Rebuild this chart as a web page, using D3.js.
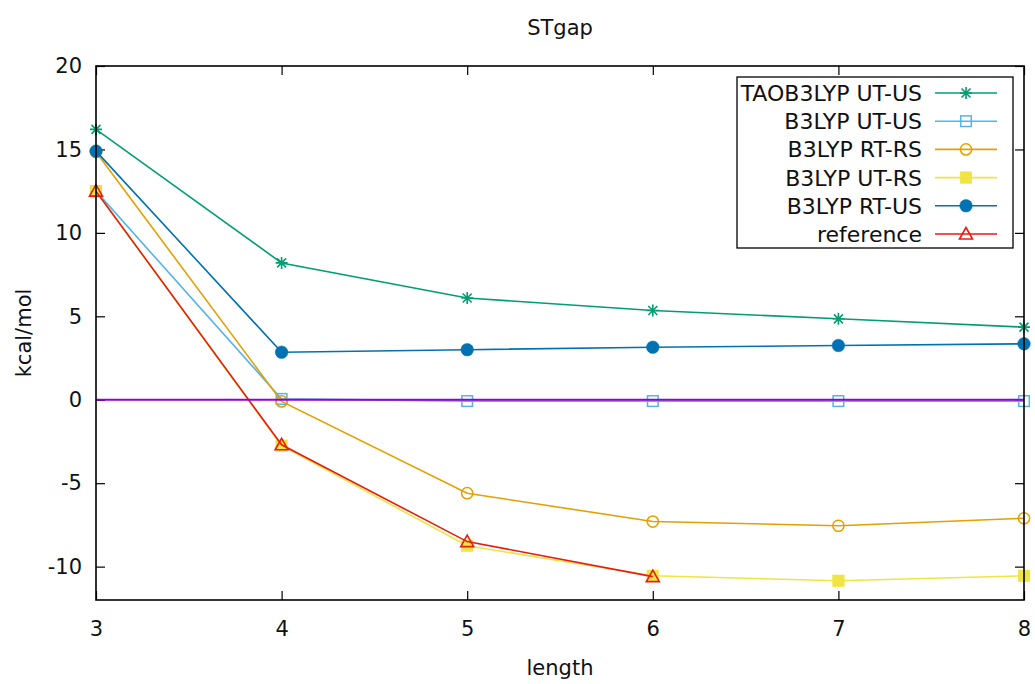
<!DOCTYPE html>
<html>
<head>
<meta charset="utf-8">
<script src="https://cdn.jsdelivr.net/npm/d3@7"></script>
<style>
  html, body { margin: 0; padding: 0; background: #fff; }
  svg text { font-family: "DejaVu Sans", Verdana, sans-serif; fill: #111; }
</style>
</head>
<body>
<svg id="chart" width="1035" height="684"></svg>
<script>
// ---- data ----
const lengths = [3, 4, 5, 6, 7, 8];
const taoUTUS  = [16.2, 8.2, 6.1, 5.35, 4.85, 4.35];
const b3UTUS   = [12.5, 0.05, -0.08, -0.08, -0.08, -0.08];
const b3RTRS   = [14.85, -0.1, -5.6, -7.3, -7.55, -7.1];
const b3UTRS   = [12.5, -2.75, -8.75, -10.55, -10.85, -10.55];
const b3RTUS   = [14.9, 2.85, 3.0, 3.15, 3.25, 3.35];
const refVals  = [12.5, -2.7, -8.5, -10.6];
const seriesNames = ["TAOB3LYP UT-US", "B3LYP UT-US", "B3LYP RT-RS", "B3LYP UT-RS", "B3LYP RT-US", "reference"];
const seriesColors = ["#009e73", "#56b4e9", "#e69f00", "#f0e442", "#0072b2", "#e51e10"];
const seriesMarkers = ["star", "openSquare", "openCircle", "filledSquare", "filledCircle", "openTriangle"];
const yTicks = [-10, -5, 0, 5, 10, 15, 20];
const xTicks = [3, 4, 5, 6, 7, 8];
const titleText = "STgap";
const xLabel = "length";
const yLabel = "kcal/mol";

const seriesValues = [taoUTUS, b3UTUS, b3RTRS, b3UTRS, b3RTUS, refVals];

// ---- layout ----
const svg = d3.select("#chart");
const L = 96, R = 1024, T = 66, B = 600;
const x = d3.scaleLinear().domain([3, 8]).range([L, R]);
const y = d3.scaleLinear().domain([-12, 20]).range([B, T]);
const fontSize = 21;
const legendFont = 22;
const plainFmt = d => String(d);

function drawMarker(g, type, cx, cy, color) {
  const s = 6;
  if (type === "star") {
    const p = d3.path();
    p.moveTo(cx - s, cy); p.lineTo(cx + s, cy);
    p.moveTo(cx, cy - s); p.lineTo(cx, cy + s);
    p.moveTo(cx - s * 0.75, cy - s * 0.75); p.lineTo(cx + s * 0.75, cy + s * 0.75);
    p.moveTo(cx - s * 0.75, cy + s * 0.75); p.lineTo(cx + s * 0.75, cy - s * 0.75);
    g.append("path").attr("d", p.toString()).attr("stroke", color).attr("stroke-width", 1.6).attr("fill", "none");
  } else if (type === "openSquare" || type === "filledSquare") {
    const filled = type === "filledSquare";
    const h = filled ? 5.8 : 5.3;
    g.append("rect").attr("x", cx - h).attr("y", cy - h).attr("width", 2 * h).attr("height", 2 * h)
      .attr("fill", filled ? color : "none").attr("stroke", color).attr("stroke-width", filled ? 0.5 : 1.5);
  } else if (type === "openCircle" || type === "filledCircle") {
    const filled = type === "filledCircle";
    g.append("circle").attr("cx", cx).attr("cy", cy).attr("r", filled ? 6.3 : 5.6)
      .attr("fill", filled ? color : "none").attr("stroke", color).attr("stroke-width", filled ? 0.5 : 1.5);
  } else if (type === "openTriangle") {
    const p = d3.path();
    p.moveTo(cx, cy - 6.5); p.lineTo(cx + 6.5, cy + 5); p.lineTo(cx - 6.5, cy + 5); p.closePath();
    g.append("path").attr("d", p.toString()).attr("fill", "none").attr("stroke", color).attr("stroke-width", 1.6);
  }
}

// ---- axes (gnuplot-style ticks inward, mirrored) ----
const axisG = svg.append("g");
const tickLen = 9;
const leftAxis = d3.axisLeft(y).tickValues(yTicks).tickSizeInner(-tickLen).tickSizeOuter(0).tickFormat(plainFmt);
axisG.append("g").attr("transform", `translate(${L},0)`).call(leftAxis)
  .call(g => g.select(".domain").remove())
  .call(g => g.selectAll("line").attr("stroke", "#000").attr("stroke-width", 1.2))
  .call(g => g.selectAll("text").attr("font-size", fontSize).attr("font-family", "DejaVu Sans").attr("fill", "#111").attr("x", -14));
const rightAxis = d3.axisRight(y).tickValues(yTicks).tickSizeInner(-tickLen).tickSizeOuter(0).tickFormat("");
axisG.append("g").attr("transform", `translate(${R},0)`).call(rightAxis)
  .call(g => g.select(".domain").remove())
  .call(g => g.selectAll("line").attr("stroke", "#000").attr("stroke-width", 1.2));
const bottomAxis = d3.axisBottom(x).tickValues(xTicks).tickSizeInner(-tickLen).tickSizeOuter(0).tickFormat(plainFmt);
axisG.append("g").attr("transform", `translate(0,${B})`).call(bottomAxis)
  .call(g => g.select(".domain").remove())
  .call(g => g.selectAll("line").attr("stroke", "#000").attr("stroke-width", 1.2))
  .call(g => g.selectAll("text").attr("font-size", fontSize).attr("font-family", "DejaVu Sans").attr("fill", "#111").attr("y", 21));
const topAxis = d3.axisTop(x).tickValues(xTicks).tickSizeInner(-tickLen).tickSizeOuter(0).tickFormat("");
axisG.append("g").attr("transform", `translate(0,${T})`).call(topAxis)
  .call(g => g.select(".domain").remove())
  .call(g => g.selectAll("line").attr("stroke", "#000").attr("stroke-width", 1.2));

// ---- series ----
const plotG = svg.append("g");
const line = d3.line().x(d => x(d[0])).y(d => y(d[1]));
seriesValues.forEach((vals, i) => {
  const pts = vals.map((v, j) => [lengths[j], v]);
  plotG.append("path").datum(pts).attr("d", line)
    .attr("fill", "none").attr("stroke", seriesColors[i]).attr("stroke-width", 1.6);
  pts.forEach(p => drawMarker(plotG, seriesMarkers[i], x(p[0]), y(p[1]), seriesColors[i]));
});
// zero line (purple)
plotG.append("line").attr("x1", x(3)).attr("x2", x(8)).attr("y1", y(0)).attr("y2", y(0))
  .attr("stroke", "#9400d3").attr("stroke-width", 1.8);

// ---- frame ----
svg.append("rect").attr("x", L).attr("y", T).attr("width", R - L).attr("height", B - T)
  .attr("fill", "none").attr("stroke", "#000").attr("stroke-width", 1.6);

// ---- legend ----
const lg = svg.append("g");
lg.append("rect").attr("x", 737).attr("y", 77).attr("width", 276).attr("height", 171)
  .attr("fill", "#fff").attr("stroke", "#000").attr("stroke-width", 1.3);
seriesNames.forEach((name, i) => {
  const cy = 93 + i * 28.2;
  lg.append("text").attr("x", 922).attr("y", cy).attr("dy", "0.36em").attr("text-anchor", "end")
    .attr("font-size", legendFont).text(name);
  lg.append("line").attr("x1", 935).attr("x2", 997).attr("y1", cy).attr("y2", cy)
    .attr("stroke", seriesColors[i]).attr("stroke-width", 1.6);
  drawMarker(lg, seriesMarkers[i], 966, cy, seriesColors[i]);
});

// ---- titles ----
svg.append("text").attr("x", (L + R) / 2).attr("y", 27).attr("dy", "0.36em").attr("text-anchor", "middle")
  .attr("font-size", fontSize).text(titleText);
svg.append("text").attr("x", (L + R) / 2).attr("y", 667).attr("dy", "0.36em").attr("text-anchor", "middle")
  .attr("font-size", fontSize).text(xLabel);
svg.append("text").attr("transform", `translate(23,${(T + B) / 2}) rotate(-90)`).attr("dy", "0.36em")
  .attr("text-anchor", "middle").attr("font-size", fontSize).text(yLabel);
</script>
</body>
</html>
